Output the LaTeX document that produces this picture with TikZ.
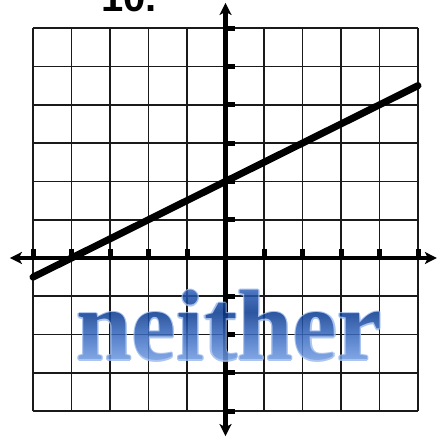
\documentclass[tikz,border=0pt]{standalone}
\usepackage{fontspec}
\setmainfont{Liberation Serif}
\newfontfamily\titlefont{Liberation Sans}
\usetikzlibrary{arrows.meta,fadings}
\definecolor{gridc}{HTML}{1A1A1A}
\definecolor{outlinec}{HTML}{9DBBEC}
\definecolor{nbA}{HTML}{6F9AE0}
\definecolor{nbB}{HTML}{3F6FC4}
\definecolor{nbC}{HTML}{0A3A90}
\definecolor{nbD}{HTML}{2A5AB0}
\definecolor{nbE}{HTML}{86ABE8}
\definecolor{nbF}{HTML}{AAC6F0}
\pgfdeclareverticalshading{neithershade}{100bp}{color(0bp)=(nbA); color(50bp)=(nbA); color(57bp)=(nbB); color(65bp)=(nbC); color(71bp)=(nbD); color(79.4bp)=(nbE); color(92bp)=(nbF); color(100bp)=(nbF)}
\newcommand{\neitherfont}{\fontsize{100}{100}\selectfont\bfseries}
\begin{tikzfadingfrompicture}[name=neitherfade]
  \path (-180pt,-80pt) rectangle (180pt,80pt);
  \node[anchor=base, inner sep=0pt, text=transparent!0, font=\neitherfont] (fadetext) at (0,0) {neither};
\end{tikzfadingfrompicture}
\tikzset{
  gridline/.style={draw=gridc, line width=1.7pt},
  axisline/.style={draw=black, line width=4.5pt, {Stealth[length=12pt,width=12pt,inset=3pt]}-{Stealth[length=12pt,width=12pt,inset=3pt]}},
  tickmark/.style={draw=black, line width=5pt},
  graphline/.style={draw=black, line width=7pt, line cap=round},
  outlinetext/.style={anchor=base, inner sep=0pt, text=outlinec, font=\neitherfont}
}
\begin{document}
\begin{tikzpicture}[x=1pt,y=1pt]
  \useasboundingbox (0,0) rectangle (438,438);
  \clip (0,0) rectangle (438,438);
  \node[anchor=base west, inner sep=0pt, font=\titlefont\fontsize{40}{40}\selectfont\bfseries] (title) at (101,426) {10.};
  \begin{scope}[shift={(225.5pt,180pt)}, x=38.5pt, y=38.3pt]
    \foreach \i in {-5,...,5} { \draw[gridline] (\i,-4) -- (\i,6); }
    \foreach \j in {-4,...,6} { \draw[gridline] (-5,\j) -- (5,\j); }
    \coordinate (xl) at (-5.6,0);
    \coordinate (xr) at (5.49,0);
    \coordinate (yb) at (0,-4.65);
    \coordinate (yt) at (0,6.66);
    \draw[axisline] (xl) -- (xr);
    \draw[axisline] (yb) -- (yt);
    \foreach \i in {-5,-4,-3,-2,-1,1,2,3,4,5} { \draw[tickmark] (\i,0) -- ++(0,9pt); }
    \foreach \j in {-4,-3,-2,-1,1,2,3,4,5,6} { \draw[tickmark] (0,\j) -- ++(9pt,0); }
    \coordinate (la) at (-5,-0.5);
    \coordinate (lb) at (5,4.5);
    \draw[graphline] (la) -- (lb);
  \end{scope}
  \begin{scope}[transparency group, opacity=0.86]
    \foreach \dx/\dy in {1.1/0,-1.1/0,0/1.1,0/-1.1,0.8/0.8,-0.8/0.8,0.8/-0.8,-0.8/-0.8} {
      \node[outlinetext] at (229+\dx,78+\dy) {neither};
    }
    \shade[path fading=neitherfade, fit fading=false, fading transform={shift={(229pt,78pt)}}, shading=neithershade] (49,-2) rectangle (409,158);
  \end{scope}
\end{tikzpicture}
\end{document}
